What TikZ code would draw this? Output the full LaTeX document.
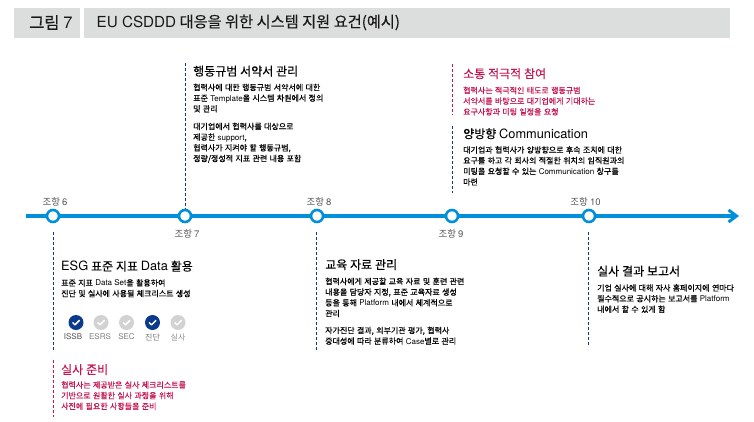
\documentclass[tikz,border=0pt]{standalone}
\usepackage{fontspec}
\setmainfont{Noto Sans CJK KR}
\newfontfamily\latf{TeX Gyre Heros}
\newfontfamily\hdf[FakeBold=0.25,WordSpace=1.4]{Noto Sans CJK KR}
\newfontfamily\ttlf[FakeBold=0.25,WordSpace=1.05]{Noto Sans CJK KR}
\newfontfamily\figf[FakeBold=0.6]{Noto Sans CJK KR}
\newfontfamily\bdf[FakeBold=0.45,WordSpace=1.3]{Noto Sans CJK KR}
\usetikzlibrary{calc,arrows.meta}
\definecolor{linecol}{HTML}{0090DA}
\definecolor{navy}{HTML}{0B3A8C}
\definecolor{crim}{HTML}{C4164F}
\definecolor{boxg}{HTML}{DCDEDE}
\definecolor{tickg}{HTML}{D2D2D2}
\definecolor{capg}{HTML}{555555}
\newcommand{\ltn}[1]{{\latf #1}}
\newcommand{\hltn}[1]{{\fontsize{12.8}{14}\selectfont\latf #1}}
\tikzset{
 titlebox/.style={fill=boxg,draw=none,minimum height=29.5pt,inner sep=0pt},
 titletext/.style={font=\fontsize{15.2}{18}\selectfont\ttlf,text=black!90,inner sep=0pt,anchor=west},
 figtext/.style={font=\fontsize{16.5}{18}\selectfont\figf,text=black!90,inner sep=0pt,anchor=west},
 hub/.style={circle,draw=linecol,line width=2.6pt,fill=white,minimum size=12pt,inner sep=0pt},
 clause/.style={font=\fontsize{9.5}{11}\selectfont,text=capg,inner sep=0pt},
 headtxt/.style={font=\fontsize{12}{14}\selectfont\hdf,inner sep=0pt,anchor=north west,align=left},
 bodytxt/.style={font=\fontsize{8}{10.7}\selectfont\bdf,inner sep=0pt,anchor=north west,align=left},
 navydash/.style={draw=navy,line width=0.8pt,dash pattern=on 3pt off 2pt},
 crimdash/.style={draw=crim,line width=0.8pt,dash pattern=on 3pt off 2pt},
 tickon/.style={circle,fill=navy,minimum size=15pt,inner sep=0pt},
 tickoff/.style={circle,fill=tickg,minimum size=15pt,inner sep=0pt},
 tickmark/.style={draw=white,line width=1.5pt,line cap=round,line join=round},
 captxt/.style={font=\fontsize{8}{9}\selectfont,inner sep=0pt,text=capg},
}
\newcommand{\chk}[1]{\draw[tickmark] ($(#1)+(-3.2,0.2)$) -- ($(#1)+(-1,2.3)$) -- ($(#1)+(3.3,-2)$);}
\begin{document}
\begin{tikzpicture}[x=1pt,y=-1pt]
\useasboundingbox (0,0) rectangle (754,421);
\node[titlebox,minimum width=66pt,anchor=north west] (t1) at (14,8) {};
\node[titlebox,minimum width=646pt,anchor=north west] (t2) at (84,8) {};
\node[figtext] (t1t) at (29,22.5) {그림 \ltn{7}};
\node[titletext] (t2t) at (96.5,22.5) {\ltn{EU CSDDD} 대응을 위한 시스템 지원 요건(예시)};
% timeline
\coordinate (ls) at (26,216);
\coordinate (le) at (739,216);
\draw[linecol,line width=3.2pt,-{Straight Barb[length=8pt,width=12pt,line width=3pt]}] (ls) -- (le);
\node[hub] (c6) at (53,216) {};
\node[hub] (c7) at (185,216) {};
\node[hub] (c8) at (317,216) {};
\node[hub] (c9) at (452,216) {};
\node[hub] (c10) at (589,216) {};
\node[clause] (l6) at (55,201.5) {조항 \ltn{6}};
\node[clause] (l7) at (187,234) {조항 \ltn{7}};
\node[clause] (l8) at (319,201.5) {조항 \ltn{8}};
\node[clause] (l9) at (451,233.5) {조항 \ltn{9}};
\node[clause] (l10) at (585.5,201.5) {조항 \ltn{10}};
% dashed
\coordinate (d7) at (185,63);
\draw[navydash] (d7) -- (c7);
\coordinate (d9a) at (452,64); \coordinate (d9b) at (452,115);
\draw[crimdash] (d9a) -- (d9b);
\coordinate (d9c) at (452,126);\coordinate (d9d) at (452,193);
\draw[navydash] (d9c) -- (d9d);
\coordinate (d6a) at (53.5,232);\coordinate (d6b) at (53.5,350);
\draw[navydash] (d6a) -- (d6b);
\coordinate (d6c) at (53.5,360);\coordinate (d6d) at (53.5,417);
\draw[crimdash] (d6c) -- (d6d);
\coordinate (d8a) at (316.5,232);\coordinate (d8b) at (316.5,350);
\draw[navydash] (d8a) -- (d8b);
\coordinate (d10a) at (588.5,232);\coordinate (d10b) at (588.5,345);
\draw[navydash] (d10a) -- (d10b);
% text top
\node[headtxt] (h7) at (193,65.5) {행동규범 서약서 관리};
\node[bodytxt] (b7a) at (193,83.5) {협력사에 대한 행동규범 서약서에 대한\\표준 \ltn{Template}을 시스템 차원에서 정의\\및 관리};
\node[bodytxt] (b7b) at (193,122.5) {대기업에서 협력사를 대상으로\\제공한 \ltn{support},\\협력사가 지켜야 할 행동규범,\\정량/정성적 지표 관련 내용 포함};
\node[headtxt,text=crim] (h9a) at (463,68) {소통 적극적 참여};
\node[bodytxt,text=crim] (b9a) at (463,86.5) {협력사는 적극적인 태도로 행동규범\\서약서를 바탕으로 대기업에게 기대하는\\요구사항과 미팅 일정을 요청};
\node[headtxt] (h9b) at (463,128) {양방향 \hltn{Communication}};
\node[bodytxt] (b9b) at (463,146) {대기업과 협력사가 양방향으로 후속 조치에 대한\\요구를 하고 각 회사의 적절한 위치의 임직원과의\\미팅을 요청할 수 있는 \ltn{Communication} 창구를\\마련};
% bottom
\node[headtxt] (h6) at (61,260.5) {\hltn{ESG} 표준 지표 \hltn{Data} 활용};
\node[bodytxt] (b6) at (61,279) {표준 지표 \ltn{Data Set}을 활용하여\\진단 및 실사에 사용될 체크리스트 생성};
\node[tickon] (k1) at (76,322.5) {}; \chk{k1}
\node[tickoff] (k2) at (101,322.5) {}; \chk{k2}
\node[tickoff] (k3) at (126.5,322.5) {}; \chk{k3}
\node[tickon] (k4) at (152.5,322.5) {}; \chk{k4}
\node[tickoff] (k5) at (178,322.5) {}; \chk{k5}
\node[captxt] (q1) at (73,337) {\ltn{ISSB}};
\node[captxt,text=black!50] (q2) at (100,337) {\ltn{ESRS}};
\node[captxt,text=black!50] (q3) at (126.5,337) {\ltn{SEC}};
\node[captxt,text=black!55] (q4) at (152.5,337) {진단};
\node[captxt,text=black!45] (q5) at (178,337) {실사};
\node[headtxt,text=crim] (h6b) at (61,364) {실사 준비};
\node[bodytxt,text=crim] (b6b) at (61,381) {협력사는 제공받은 실사 체크리스트를\\기반으로 원활한 실사 과정을 위해\\사전에 필요한 사항들을 준비};
\node[headtxt] (h8) at (325,259) {교육 자료 관리};
\node[bodytxt] (b8a) at (325,277.5) {협력사에게 제공할 교육 자료 및 훈련 관련\\내용을 담당자 지정, 표준 교육자료 생성\\등을 통해 \ltn{Platform} 내에서 체계적으로\\관리};
\node[bodytxt] (b8b) at (325,326.5) {자가진단 결과, 외부기관 평가, 협력사\\중대성에 따라 분류하여 \ltn{Case}별로 관리};
\node[headtxt] (h10) at (597,265.5) {실사 결과 보고서};
\node[bodytxt] (b10) at (597,284) {기업 실사에 대해 자사 홈페이지에 연마다\\필수적으로 공시하는 보고서를 \ltn{Platform}\\내에서 할 수 있게 함};
\end{tikzpicture}
\end{document}
